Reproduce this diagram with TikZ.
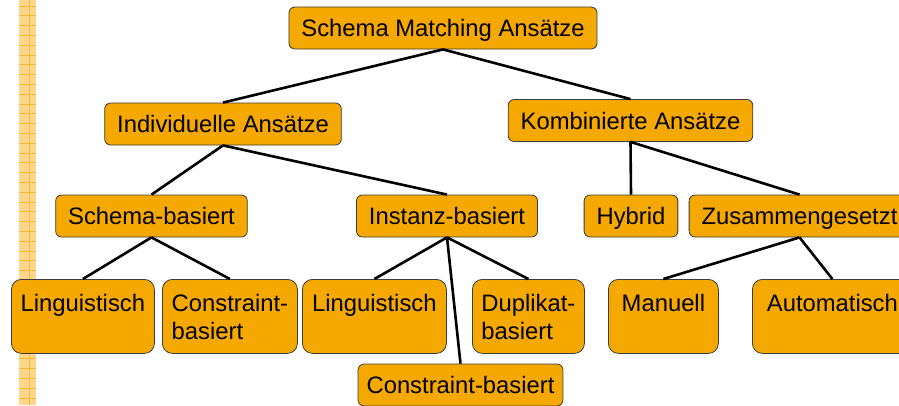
\documentclass[tikz,border=0pt]{standalone}
\usepackage{fontspec}
\setmainfont{Liberation Sans}
\definecolor{boxfill}{RGB}{245,168,0}
\definecolor{boxline}{RGB}{60,60,60}
\definecolor{stripfill}{RGB}{254,214,140}
\definecolor{stripline}{RGB}{248,182,50}
% fixed-size cell: text block centred, lines left-aligned, placed near the top
\newcommand\cellbox[2]{\parbox[b][74pt][t]{#1}{\vspace*{12.4pt}\centering\begin{tabular}[t]{@{}l@{}}#2\end{tabular}}}
\begin{document}
\begin{tikzpicture}[x=1pt,y=-1pt,
  box/.style={draw=boxline, line width=0.8pt, fill=boxfill, text=black,
    font=\fontsize{23.8}{28}\selectfont},
  flat/.style={box, rounded corners=6pt, inner xsep=12.5pt, inner ysep=12.5pt,
    text height=17pt, text depth=0pt},
  tall/.style={box, rounded corners=10pt, inner sep=0pt, anchor=north west},
  link/.style={line width=2.6pt, draw=black}]
\useasboundingbox (0,0) rectangle (899,405);
\clip (0,0) rectangle (899,405);

% chequered margin strip
\fill[stripfill] (19,0) rectangle (35.7,405);
\foreach \y in {6,15.8,...,405} \draw[stripline, line width=0.8pt] (19,\y) -- (35.7,\y);
\draw[stripline, line width=0.8pt] (29,0) -- (29,405);

% single-line boxes
\node[flat] (root)     at (443,28)      {Schema Matching Ansätze};
\node[flat] (indiv)    at (223,124)     {Individuelle Ansätze};
\node[flat] (kombi)    at (630.5,120.5) {Kombinierte Ansätze};
\node[flat] (schema)   at (151.5,216)   {Schema-basiert};
\node[flat] (instanz)  at (447,216)     {Instanz-basiert};
\node[flat] (hybrid)   at (631,216)     {Hybrid};
\node[flat] (zusammen) at (799.5,216)   {Zusammengesetzt};
\node[flat, inner xsep=8.5pt] (cbinst) at (460.5,385) {Constraint-basiert};

% tall leaf boxes
\node[tall] (ling1) at (11,279)  {\cellbox{143pt}{Linguistisch}};
\node[tall] (cons1) at (162,279) {\cellbox{135pt}{Constraint-\\basiert}};
\node[tall] (ling2) at (302,279) {\cellbox{144pt}{Linguistisch}};
\node[tall] (dupl)  at (472,279) {\cellbox{112pt}{Duplikat-\\basiert}};
\node[tall] (manu)  at (608,279) {\cellbox{110pt}{Manuell}};
\node[tall] (auto)  at (752,279) {\cellbox{160pt}{Automatisch}};

% tree edges
\draw[link] (root.south) -- (indiv.north);
\draw[link] (root.south) -- (kombi.north);
\draw[link] (indiv.south) -- (schema.north);
\draw[link] (indiv.south) -- (instanz.north);
\draw[link] (kombi.south) -- (hybrid.north);
\draw[link] (kombi.south) -- (zusammen.north);
\draw[link] (schema.south) -- (ling1.north);
\draw[link] (schema.south) -- (cons1.north);
\draw[link] (instanz.south) -- (ling2.north);
\draw[link] (instanz.south) -- (dupl.north);
\draw[link] (instanz.south) -- (cbinst.north);
\draw[link] (zusammen.south) -- (manu.north);
\draw[link] (zusammen.south) -- (auto.north);
\end{tikzpicture}
\end{document}
